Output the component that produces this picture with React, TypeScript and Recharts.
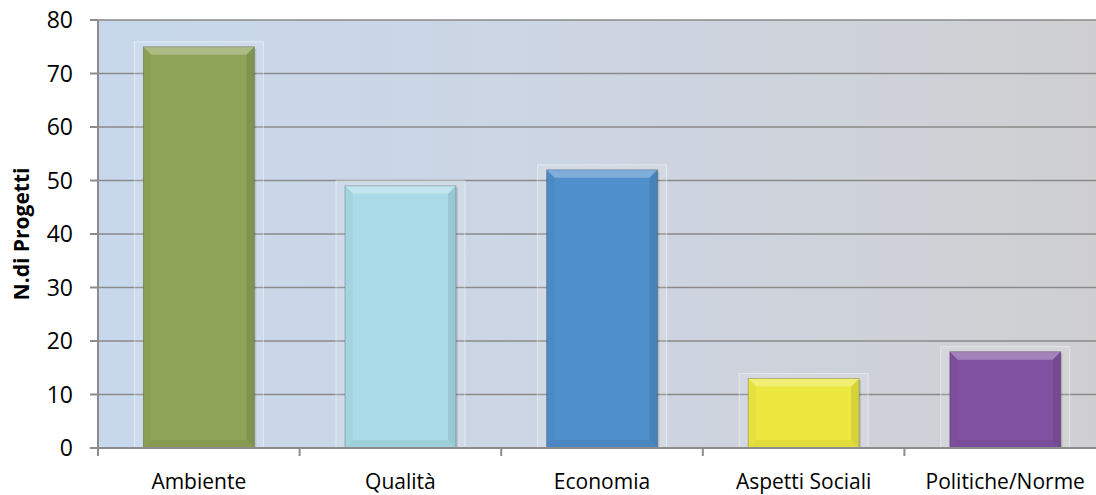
import React from 'react';
import { BarChart, Bar, XAxis, YAxis, CartesianGrid, Cell } from 'recharts';

const categories = ['Ambiente', 'Qualità', 'Economia', 'Aspetti Sociali', 'Politiche/Norme'];
const values = [75, 49, 52, 13, 18];
const colors = ['#8ea356', '#a9dbe8', '#4f8fcc', '#ece83f', '#8152a2'];
const yTicks = [0, 10, 20, 30, 40, 50, 60, 70, 80];

const data = categories.map((name, i) => ({ name, value: values[i], color: colors[i] }));

const FONT = '"Open Sans", "DejaVu Sans", sans-serif';

const BevelBar = (props: any) => {
  const { x, y, width: w, height: h, fill } = props;
  if (!w || !h) return null;
  const b = Math.min(8, h / 2);
  return (
    <g>
      <rect x={x - 9} y={y - 5} width={w + 18} height={h + 5} fill="#ffffff" fillOpacity={0.12} stroke="#ffffff" strokeOpacity={0.45} strokeWidth={1} />
      <rect x={x + 2} y={y + 2} width={w} height={h - 2} fill="#000" fillOpacity={0.1} />
      <rect x={x} y={y} width={w} height={h} fill={fill} />
      <polygon points={`${x},${y} ${x + w},${y} ${x + w - b},${y + b} ${x + b},${y + b}`} fill="#ffffff" fillOpacity={0.28} />
      <polygon points={`${x},${y} ${x + b},${y + b} ${x + b},${y + h - b} ${x},${y + h}`} fill="#000" fillOpacity={0.03} />
      <polygon points={`${x + w},${y} ${x + w - b},${y + b} ${x + w - b},${y + h - b} ${x + w},${y + h}`} fill="#000" fillOpacity={0.09} />
      <polygon points={`${x},${y + h} ${x + b},${y + h - b} ${x + w - b},${y + h - b} ${x + w},${y + h}`} fill="#000" fillOpacity={0.05} />
      <rect x={x} y={y} width={w} height={h} fill="none" stroke="#000" strokeOpacity={0.22} strokeWidth={1} />
    </g>
  );
};

const XTick = (props: any) => {
  const { x, y, payload, width, visibleTicksCount, index } = props;
  const band = (width || 1008) / (visibleTicksCount || categories.length);
  const left = x - band / 2;
  return (
    <g>
      <line x1={left} y1={y - 8} x2={left} y2={y} stroke="#8c8c8c" strokeWidth={2} />
      {index === categories.length - 1 && (
        <line x1={left + band} y1={y - 8} x2={left + band} y2={y} stroke="#8c8c8c" strokeWidth={2} />
      )}
      <text x={x} y={y + 33} textAnchor="middle" fontFamily={FONT} fontSize={21} fill="#000">
        {payload.value}
      </text>
    </g>
  );
};

const YLabel = (props: any) => {
  const vb = props.viewBox || {};
  const cy = (vb.y || 20) + (vb.height || 428) / 2;
  return (
    <text x={29} y={cy} transform={`rotate(-90, 29, ${cy})`} textAnchor="middle" fontFamily={FONT} fontWeight="bold" fontSize={21} fill="#000">
      N.di Progetti
    </text>
  );
};

export default function App() {
  return (
    <div style={{ position: 'absolute', left: 0, top: 0, width: 1096, height: 495, overflow: 'hidden', background: '#fff' }}>
      <BarChart width={1106} height={495} data={data} margin={{ top: 20, right: 0, bottom: 0, left: 0 }} barCategoryGap="22.5%">
        <defs>
          <linearGradient id="plotBg" x1="0" y1="0" x2="1" y2="0">
            <stop offset="0%" stopColor="#c7d8ec" />
            <stop offset="50%" stopColor="#cdd5e2" />
            <stop offset="100%" stopColor="#cfcfd0" />
          </linearGradient>
        </defs>
        <CartesianGrid vertical={false} stroke="#8a8a8a" strokeWidth={1.6} fill="url(#plotBg)" fillOpacity={1} />
        <XAxis
          dataKey="name"
          height={47}
          tick={<XTick />}
          tickLine={false}
          axisLine={{ stroke: '#8c8c8c', strokeWidth: 2 }}
          interval={0}
        />
        <YAxis
          width={98}
          domain={[0, 80]}
          ticks={yTicks}
          interval={0}
          tickSize={8}
          tickLine={{ stroke: '#8c8c8c', strokeWidth: 2 }}
          axisLine={{ stroke: '#8c8c8c', strokeWidth: 2 }}
          tick={{ fontFamily: FONT, fontSize: 23, fill: '#000' }}
          tickMargin={17}
          label={<YLabel />}
        />
        <Bar dataKey="value" isAnimationActive={false} shape={<BevelBar />}>
          {data.map((d, i) => (
            <Cell key={i} fill={d.color} />
          ))}
        </Bar>
      </BarChart>
    </div>
  );
}
